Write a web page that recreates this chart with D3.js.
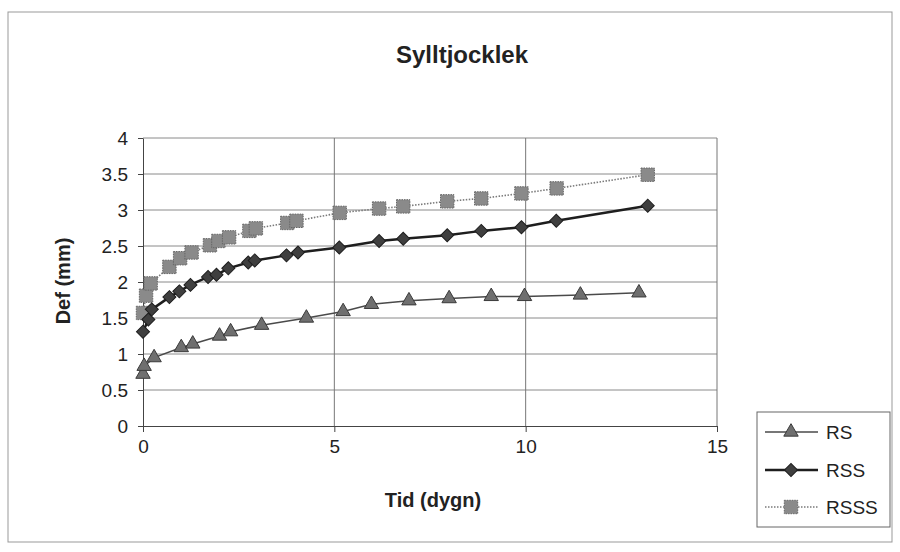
<!DOCTYPE html>
<html>
<head>
<meta charset="utf-8">
<script src="https://cdn.jsdelivr.net/npm/d3@7"></script>
<style>
  body { margin: 0; background: #fff; }
  svg { font-family: "Liberation Sans", Arial, sans-serif; }
</style>
</head>
<body>
<div id="chart"></div>
<script>
// Series values (days, deformation mm)
const rsDays = [0, 0.03, 0.29, 1.0, 1.3, 2.0, 2.29, 3.1, 4.27, 5.23, 5.97, 6.95, 8.0, 9.1, 9.97, 11.43, 12.96];
const rsDef  = [0.72, 0.83, 0.95, 1.09, 1.14, 1.25, 1.31, 1.40, 1.50, 1.59, 1.69, 1.74, 1.77, 1.80, 1.80, 1.82, 1.85];

const rssDays = [0, 0.14, 0.23, 0.69, 0.95, 1.24, 1.70, 1.92, 2.23, 2.75, 2.92, 3.75, 4.05, 5.13, 6.17, 6.80, 7.95, 8.84, 9.89, 10.80, 13.19];
const rssDef  = [1.31, 1.48, 1.62, 1.79, 1.87, 1.96, 2.07, 2.10, 2.19, 2.27, 2.30, 2.37, 2.41, 2.48, 2.57, 2.60, 2.65, 2.71, 2.76, 2.85, 3.06];

const rsssDays = [0, 0.08, 0.20, 0.69, 0.97, 1.27, 1.75, 1.97, 2.25, 2.78, 2.95, 3.77, 4.01, 5.14, 6.17, 6.80, 7.95, 8.84, 9.89, 10.81, 13.19];
const rsssDef  = [1.57, 1.81, 1.98, 2.21, 2.33, 2.41, 2.51, 2.57, 2.62, 2.71, 2.745, 2.82, 2.85, 2.96, 3.02, 3.05, 3.12, 3.16, 3.23, 3.30, 3.49];

const seriesNames = ["RS", "RSS", "RSSS"];
const xTicks = [0, 5, 10, 15];
const yTicks = [0, 0.5, 1, 1.5, 2, 2.5, 3, 3.5, 4];

const width = 900, height = 552;
const margins = {top: 138, right: 183, bottom: 126, left: 143};

const svg = d3.select("#chart")
  .append("svg")
  .attr("width", width)
  .attr("height", height);

// outer chart frame
svg.append("rect")
  .attr("x", 8).attr("y", 12)
  .attr("width", 884).attr("height", 530)
  .attr("fill", "none")
  .attr("stroke", "#999");

const xScale = d3.scaleLinear()
  .domain([0, 15])
  .range([margins.left, width - margins.right]);

const yScale = d3.scaleLinear()
  .domain([0, 4])
  .range([height - margins.bottom, margins.top]);

// gridlines
svg.append("g")
  .selectAll("line.h")
  .data(yTicks.filter(d => d > 0))
  .join("line")
    .attr("x1", xScale(0)).attr("x2", xScale(15))
    .attr("y1", d => yScale(d)).attr("y2", d => yScale(d))
    .attr("stroke", "#8a8a8a").attr("stroke-width", 1);

svg.append("g")
  .selectAll("line.v")
  .data(xTicks.filter(d => d > 0))
  .join("line")
    .attr("x1", d => xScale(d)).attr("x2", d => xScale(d))
    .attr("y1", yScale(0)).attr("y2", yScale(4))
    .attr("stroke", "#777").attr("stroke-width", 1);

// axes
const xAxis = svg.append("g")
  .attr("transform", `translate(0,${yScale(0)})`)
  .call(d3.axisBottom(xScale).tickValues(xTicks).tickSize(6).tickPadding(8).tickSizeOuter(0));

const yAxis = svg.append("g")
  .attr("transform", `translate(${xScale(0)},0)`)
  .call(d3.axisLeft(yScale).tickValues(yTicks).tickSize(5).tickPadding(10).tickSizeOuter(0)
    .tickFormat(d3.format("")));

[xAxis, yAxis].forEach(g => {
  g.selectAll("path, line").attr("stroke", "#444");
  g.selectAll("text")
    .attr("fill", "#222")
    .style("font-size", "19px");
});

// titles
svg.append("text")
  .attr("x", 462).attr("y", 63)
  .attr("text-anchor", "middle")
  .style("font-size", "24px").style("font-weight", "bold")
  .attr("fill", "#222")
  .text("Sylltjocklek");

svg.append("text")
  .attr("x", 433).attr("y", 507)
  .attr("text-anchor", "middle")
  .style("font-size", "20px").style("font-weight", "bold")
  .attr("fill", "#222")
  .text("Tid (dygn)");

svg.append("text")
  .attr("transform", `translate(70,${281}) rotate(-90)`)
  .attr("text-anchor", "middle")
  .style("font-size", "20px").style("font-weight", "bold")
  .attr("fill", "#222")
  .text("Def (mm)");

// series styles (diamond = square turned 45 degrees)
const styles = {
  RS:   {line: "#4a4a4a", lw: 1.5, dash: null,    symbol: d3.symbolTriangle, size: 90,  rot: 0,  fill: "#6f6f6f", stroke: "#3a3a3a", sdash: null},
  RSS:  {line: "#1e1e1e", lw: 2.5, dash: null,    symbol: d3.symbolSquare,   size: 85,  rot: 45, fill: "#3f3f3f", stroke: "#1e1e1e", sdash: null},
  RSSS: {line: "#7a7a7a", lw: 1.6, dash: "1.5,1.5", symbol: d3.symbolSquare, size: 180, rot: 0,  fill: "#8a8a8a", stroke: "#666", sdash: "1.5,1"}
};

const series = [
  {name: "RSSS", data: rsssDays.map((d, i) => ({x: d, y: rsssDef[i]}))},
  {name: "RSS",  data: rssDays.map((d, i) => ({x: d, y: rssDef[i]}))},
  {name: "RS",   data: rsDays.map((d, i) => ({x: d, y: rsDef[i]}))}
];

const line = d3.line()
  .x(d => xScale(d.x))
  .y(d => yScale(d.y));

series.forEach(s => {
  const st = styles[s.name];
  const g = svg.append("g");
  g.append("path")
    .datum(s.data)
    .attr("d", line)
    .attr("fill", "none")
    .attr("stroke", st.line)
    .attr("stroke-width", st.lw)
    .attr("stroke-dasharray", st.dash);
  g.selectAll("path.pt")
    .data(s.data)
    .join("path")
      .attr("class", "pt")
      .attr("transform", d => `translate(${xScale(d.x)},${yScale(d.y)}) rotate(${st.rot})`)
      .attr("d", d3.symbol().type(st.symbol).size(st.size))
      .attr("fill", st.fill)
      .attr("stroke", st.stroke)
      .attr("stroke-width", 1)
      .attr("stroke-dasharray", st.sdash);
});

// legend
const legend = svg.append("g");
legend.append("rect")
  .attr("x", 757).attr("y", 412)
  .attr("width", 133).attr("height", 115)
  .attr("fill", "#fff")
  .attr("stroke", "#666");

const legendY = [432, 470, 507];
seriesNames.forEach((name, i) => {
  const st = styles[name];
  const y = legendY[i];
  legend.append("line")
    .attr("x1", 765).attr("x2", 818)
    .attr("y1", y).attr("y2", y)
    .attr("stroke", st.line)
    .attr("stroke-width", st.lw)
    .attr("stroke-dasharray", st.dash);
  legend.append("path")
    .attr("transform", `translate(791,${y}) rotate(${st.rot})`)
    .attr("d", d3.symbol().type(st.symbol).size(st.size))
    .attr("fill", st.fill)
    .attr("stroke", st.stroke)
    .attr("stroke-dasharray", st.sdash);
  legend.append("text")
    .attr("x", 826).attr("y", y)
    .attr("dy", "0.35em")
    .style("font-size", "19px")
    .attr("fill", "#222")
    .text(name);
});
</script>
</body>
</html>
